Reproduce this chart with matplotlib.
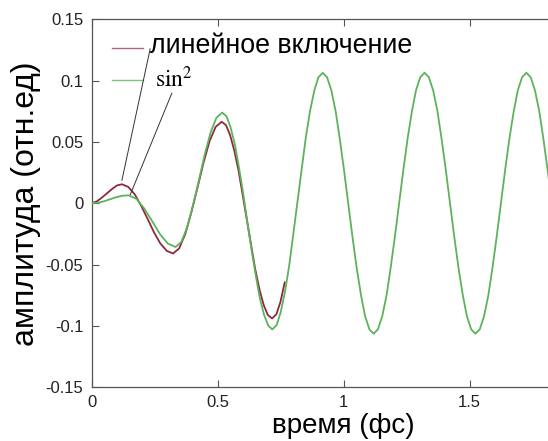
import matplotlib.pyplot as plt
import numpy as np

plt.rcParams["font.family"] = ["Liberation Sans", "DejaVu Sans"]
plt.rcParams["mathtext.fontset"] = "stix"

# линейное включение
t_lin = [0, 0.02, 0.04, 0.06, 0.08, 0.10, 0.12,
         0.145, 0.171, 0.196, 0.222, 0.247, 0.272, 0.298, 0.323,
         0.347, 0.371, 0.395, 0.420, 0.444, 0.468, 0.492, 0.516,
         0.533, 0.549, 0.566, 0.583, 0.599, 0.616, 0.633, 0.649, 0.666, 0.683, 0.699, 0.716,
         0.733, 0.749, 0.766]
amp_lin = [0, 0.0015, 0.0045, 0.0080, 0.0115, 0.0145, 0.0155,
           0.0134, 0.0072, -0.0019, -0.0128, -0.0236, -0.0327, -0.0389, -0.0410,
           -0.0369, -0.0253, -0.0078, 0.0128, 0.0333, 0.0508, 0.0624, 0.0665,
           0.0638, 0.0558, 0.0430, 0.0264, 0.0070, -0.0138, -0.0345, -0.0539, -0.0705, -0.0833, -0.0912, -0.0940,
           -0.0906, -0.0806, -0.0646]

# sin^2 включение
t_sin2 = [0, 0.024, 0.049, 0.073, 0.097, 0.122, 0.146,
          0.177, 0.208, 0.240, 0.271, 0.302, 0.333,
          0.356, 0.379, 0.402, 0.426, 0.449, 0.472, 0.495, 0.518,
          0.535, 0.551, 0.568, 0.584, 0.601, 0.617, 0.634, 0.651, 0.667, 0.684, 0.701, 0.717,
          0.734, 0.750, 0.767, 0.784, 0.800, 0.817, 0.834, 0.850, 0.867, 0.884, 0.900, 0.917,
          0.934, 0.951, 0.968, 0.984, 1.001, 1.018, 1.035, 1.052, 1.069, 1.085, 1.102, 1.119,
          1.136, 1.153, 1.170, 1.186, 1.203, 1.220, 1.237, 1.254, 1.271, 1.287, 1.304, 1.321,
          1.338, 1.355, 1.372, 1.388, 1.405, 1.422, 1.439, 1.456, 1.473, 1.489, 1.506, 1.523,
          1.540, 1.557, 1.574, 1.590, 1.607, 1.624, 1.641, 1.658, 1.675, 1.691, 1.708, 1.725,
          1.742, 1.759, 1.776, 1.792, 1.809, 1.826]
amp_sin2 = [0, 0.0004, 0.0016, 0.0033, 0.0049, 0.0061, 0.0065,
            0.0037, -0.0041, -0.0146, -0.0252, -0.0329, -0.0357,
            -0.0315, -0.0196, -0.0018, 0.0192, 0.0401, 0.0579, 0.0698, 0.0740,
            0.0710, 0.0621, 0.0481, 0.0298, 0.0084, -0.0145, -0.0374, -0.0588, -0.0771, -0.0911, -0.1000, -0.1030,
            -0.0994, -0.0890, -0.0723, -0.0506, -0.0254, 0.0018, 0.0289, 0.0541, 0.0758, 0.0925, 0.1029, 0.1065,
            0.1029, 0.0922, 0.0753, 0.0533, 0.0276, 0, -0.0276, -0.0533, -0.0753, -0.0922, -0.1029, -0.1065,
            -0.1029, -0.0922, -0.0753, -0.0533, -0.0276, 0, 0.0276, 0.0533, 0.0753, 0.0922, 0.1029, 0.1065,
            0.1029, 0.0922, 0.0753, 0.0533, 0.0276, 0, -0.0276, -0.0533, -0.0753, -0.0922, -0.1029, -0.1065,
            -0.1029, -0.0922, -0.0753, -0.0533, -0.0276, 0, 0.0276, 0.0533, 0.0753, 0.0922, 0.1029, 0.1065,
            0.1029, 0.0922, 0.0753, 0.0533, 0.0276, 0]

x_ticks = [0, 0.5, 1, 1.5]
x_ticklabels = ["0", "0.5", "1", "1.5"]
y_ticks = [-0.15, -0.1, -0.05, 0, 0.05, 0.1, 0.15]
y_ticklabels = ["-0.15", "-0.1", "-0.05", "0", "0.05", "0.1", "0.15"]

RED = "#8c2a3c"
GREEN = "#5cb35c"
AXC = "#555555"

fig = plt.figure(figsize=(5.48, 4.41), dpi=100)
# the original figure is cropped on the right: the axes run to t = 2 fs
ax = fig.add_axes([0.1673, 0.1224, 0.9197, 0.8334])

ax.plot(t_lin, amp_lin, color=RED, lw=1.3, zorder=2)
ax.plot(t_sin2, amp_sin2, color=GREEN, lw=1.3, zorder=3)

ax.set_xlim(0, 2)
ax.set_ylim(-0.15, 0.15)
ax.set_xticks(x_ticks)
ax.set_xticklabels(x_ticklabels)
ax.set_yticks(y_ticks)
ax.set_yticklabels(y_ticklabels)
ax.tick_params(direction="in", length=5, width=0.8, color=AXC,
               top=True, right=True, labelsize=12, labelcolor="#222222", pad=6)
for side in ("left", "bottom", "top", "right"):
    ax.spines[side].set_color(AXC)
    ax.spines[side].set_linewidth(0.9)

ax.set_xlabel("время (фс)", fontsize=20, labelpad=2)
ax.set_ylabel("амплитуда (отн.ед)", fontsize=23, labelpad=3)

# legend drawn by hand, as in the original figure
ax.plot([0.0403, 0.1018], [0.9233, 0.9233], color=RED, lw=1.0, alpha=0.7,
        transform=ax.transAxes, clip_on=False)
ax.plot([0.0403, 0.1018], [0.8354, 0.8354], color=GREEN, lw=1.0, alpha=0.8,
        transform=ax.transAxes, clip_on=False)
ax.text(0.1157, 0.9088, "линейное включение", fontsize=19.3, va="baseline",
        transform=ax.transAxes)
ax.text(0.1256, 0.8163, r"$\mathrm{sin}^2$", fontsize=17, va="baseline",
        transform=ax.transAxes)

# pointer lines from the labels to the first maxima
ax.plot([0.232, 0.120], [0.126, 0.0188], color="#333333", lw=0.7)
ax.plot([0.318, 0.152], [0.0898, 0.0065], color="#333333", lw=0.7)

fig.savefig("out.png", dpi=100)
